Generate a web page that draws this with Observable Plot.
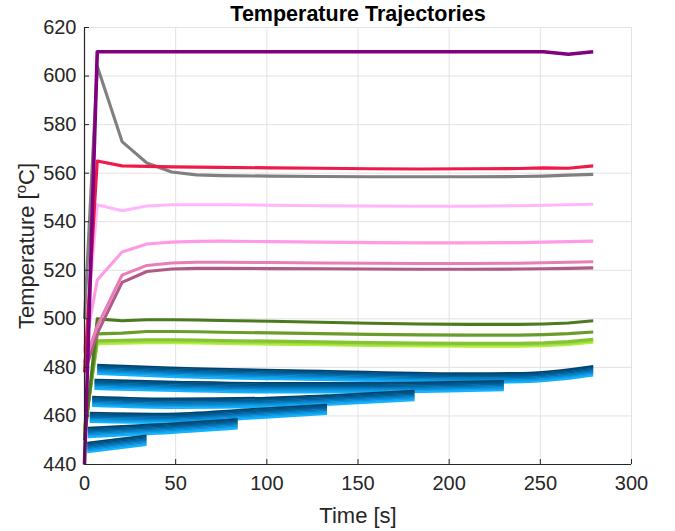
<!DOCTYPE html>
<html>
<head>
<meta charset="utf-8">
<script src="https://cdn.jsdelivr.net/npm/d3@7"></script>
<script src="https://cdn.jsdelivr.net/npm/@observablehq/plot@0.6"></script>
<style>
  html, body { margin: 0; padding: 0; background: #fff; }
</style>
</head>
<body>
<div id="chart"></div>
<script>
// ---- data ----
const title = "Temperature Trajectories";
const xLabel = "Time [s]";
const yLabel = "Temperature [oC]";
const xTicks = [0, 50, 100, 150, 200, 250, 300];
const yTicks = [440, 460, 480, 500, 520, 540, 560, 580, 600, 620];

const T = [0, 7, 20.6, 34.2, 47.8, 61.4, 75, 102.2, 129.4, 156.6, 183.8, 211, 238.2, 251.8, 265.4, 279];

const purple    = [440, 610, 610, 610, 610, 610, 610, 610, 610, 610, 610, 610, 610, 610, 609, 610];
const gray      = [500, 604, 573, 564.2, 560.5, 559.3, 559, 558.8, 558.6, 558.5, 558.5, 558.5, 558.6, 558.8, 559.2, 559.5];
const red       = [478, 565, 563, 562.8, 562.6, 562.5, 562.4, 562.2, 562, 561.8, 561.7, 561.8, 561.9, 562.2, 562, 563];
const pinkLight = [486, 547, 544.5, 546.5, 547, 547, 547, 546.8, 546.6, 546.5, 546.4, 546.4, 546.6, 546.8, 547, 547.2];
const pinkMid   = [487, 516, 527.5, 530.8, 531.6, 531.9, 532, 531.8, 531.6, 531.4, 531.3, 531.3, 531.4, 531.6, 531.8, 532];
const pinkDeep  = [482, 497, 518, 522, 523, 523.3, 523.3, 523.2, 523, 522.9, 522.8, 522.8, 522.9, 523.1, 523.3, 523.5];
const mauve     = [478, 494, 515, 519.5, 520.5, 520.8, 520.8, 520.7, 520.6, 520.5, 520.4, 520.4, 520.5, 520.6, 520.8, 521];
const greenDark = [450, 500, 499.2, 499.6, 499.6, 499.5, 499.3, 499, 498.6, 498.2, 497.9, 497.7, 497.7, 497.9, 498.3, 499.2];
const greenMid  = [452, 493.8, 494.1, 494.8, 494.8, 494.7, 494.5, 494.2, 493.9, 493.6, 493.4, 493.3, 493.3, 493.5, 493.9, 494.6];
const greenA    = [454, 491, 491.2, 491.4, 491.4, 491.3, 491.1, 490.8, 490.5, 490.2, 490, 489.9, 489.9, 490.1, 490.6, 491.6];
const greenB    = [455, 490.4, 490.6, 490.8, 490.8, 490.7, 490.5, 490.2, 489.9, 489.6, 489.4, 489.3, 489.3, 489.5, 490, 491];
const greenC    = [456, 489.8, 490, 490.2, 490.2, 490.1, 489.9, 489.6, 489.3, 489, 488.8, 488.7, 488.7, 488.9, 489.4, 490.4];

// blue bands (each has its own time span)
const bandA_t = [7, 47, 130, 212, 240, 260, 279];
const bandA_v = [479.2, 478, 476.7, 475.6, 475.8, 476.8, 478.6];
const bandB_t = [5.5, 50, 100, 150, 200, 230];
const bandB_v = [473, 472.2, 471.6, 471.6, 472, 472.5];
const bandC_t = [4.2, 50, 100, 140, 181];
const bandC_v = [466, 465.2, 465.6, 466.8, 468.4];
const bandD_t = [2.9, 45, 90, 133];
const bandD_v = [459.4, 459, 460.8, 462.7];
const bandE_t = [1.8, 40, 84];
const bandE_v = [453.2, 454.6, 456.8];
const bandF_t = [1.5, 34];
const bandF_v = [447, 450];

// ---- build ----
const rows = (t, v) => t.map((x, i) => ({x, y: v[i]}));

const series = [
  {v: greenC, c: "#b4f03e"},
  {v: greenB, c: "#9ede3a"},
  {v: greenA, c: "#86c235"},
  {v: greenMid, c: "#6a9c2a"},
  {v: greenDark, c: "#4b7a1f"},
  {v: mauve, c: "#b05a88"},
  {v: pinkDeep, c: "#e97db7"},
  {v: pinkMid, c: "#ff9be4"},
  {v: pinkLight, c: "#ffb6fd"},
  {v: gray, c: "#808080"},
  {v: red, c: "#ef1a48"},
  {v: purple, c: "#800080", w: 3.6}
];

const bands = [
  [bandA_t, bandA_v], [bandB_t, bandB_v], [bandC_t, bandC_v],
  [bandD_t, bandD_v], [bandE_t, bandE_v], [bandF_t, bandF_v]
];
const layers = 9;
const blueColor = d3.interpolateRgbBasis(["#00446e", "#005d96", "#0a86d0", "#12b2ff"]);

const bandMarks = [];
for (const [t, v] of bands) {
  const data = rows(t, v);
  for (let k = 0; k < layers; k++) {
    bandMarks.push(Plot.line(data, {
      x: "x", y: "y",
      curve: "monotone-x",
      stroke: blueColor(k / (layers - 1)),
      strokeWidth: 1.8,
      strokeLinecap: "butt",
      dy: -4.8 + k * 1.2
    }));
  }
}

const lineMarks = series.map(s => Plot.line(rows(T, s.v), {
  x: "x", y: "y", stroke: s.c, strokeWidth: s.w || 3.1,
  strokeLinejoin: "round", strokeLinecap: "butt"
}));

const fontFamily = "'Liberation Sans', Arial, Helvetica, sans-serif";

const svg = Plot.plot({
  width: 675,
  height: 531,
  marginLeft: 84,
  marginRight: 44,
  marginTop: 27,
  marginBottom: 67,
  style: {fontFamily, fontSize: "20px", color: "#262626", background: "#fff", overflow: "visible"},
  x: {domain: [0, 300]},
  y: {domain: [440, 620]},
  marks: [
    Plot.gridX(xTicks, {stroke: "#e2e2e2", strokeOpacity: 1}),
    Plot.gridY(yTicks, {stroke: "#e2e2e2", strokeOpacity: 1}),
    Plot.frame({stroke: "#e2e2e2"}),
    ...bandMarks,
    ...lineMarks,
    Plot.ruleX([xTicks[0]], {stroke: "#262626", strokeWidth: 1.2}),
    Plot.ruleY([yTicks[0]], {stroke: "#262626", strokeWidth: 1.2}),
    Plot.axisX(xTicks, {tickSize: -5, tickPadding: 16, stroke: "#262626", fill: "#262626", fontSize: 20, label: null}),
    Plot.axisY(yTicks, {tickSize: -5, tickPadding: 13, stroke: "#262626", fill: "#262626", fontSize: 20, label: null}),
    Plot.text([title], {frameAnchor: "top", dy: -13, fontSize: 21.5, fontWeight: "bold", fill: "#000", lineAnchor: "middle"}),
    Plot.text([xLabel], {frameAnchor: "bottom", dy: 51, fontSize: 22, fill: "#262626", lineAnchor: "middle"}),
    Plot.text([yLabel], {frameAnchor: "left", dx: -58, rotate: -90, fontSize: 22, fill: "#262626", lineAnchor: "middle", textAnchor: "middle"})
  ]
});

// superscript "o" in the y label
d3.select(svg).selectAll("text").each(function () {
  if (this.textContent === yLabel) {
    const el = d3.select(this);
    el.text(null).attr("text-anchor", "middle");
    el.append("tspan").text("Temperature [");
    el.append("tspan").attr("baseline-shift", "super").attr("font-size", "15px").text("o");
    el.append("tspan").text("C]");
  }
});

document.getElementById("chart").appendChild(svg);
</script>
</body>
</html>
